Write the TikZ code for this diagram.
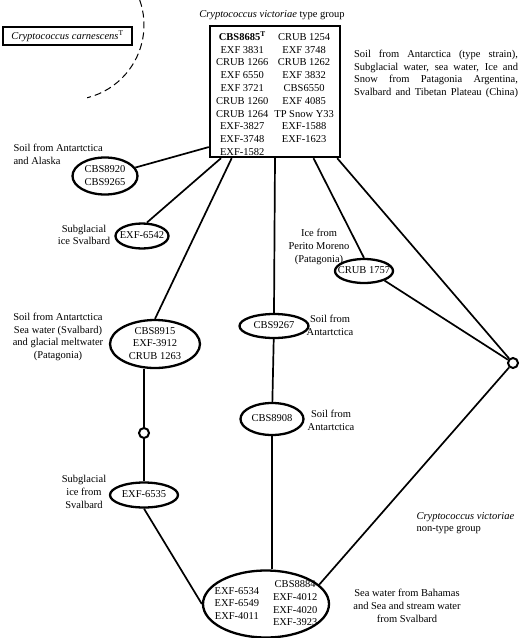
\documentclass[tikz,border=0pt]{standalone}
\usepackage{fontspec}
\setmainfont{Liberation Serif}
\usetikzlibrary{shapes.geometric}
\newcommand{\strn}[1]{\smash{\raisebox{-3pt}{\makebox[0pt]{\begin{tabular}{@{}c@{}}#1\end{tabular}}}}}

\begin{document}
\begin{tikzpicture}[x=1pt,y=-1pt,
  strain/.style={ellipse,draw,line width=2.3pt,inner sep=0pt,font=\fontsize{10.5}{12.7}\selectfont},
  link/.style={line width=1.7pt},
  junc/.style={circle,draw,line width=2pt,minimum size=10pt,inner sep=0pt},
  note/.style={align=center,font=\fontsize{10.5}{12.7}\selectfont}]
  \useasboundingbox (0,0) rectangle (520,638);
  \draw[line width=1pt,dash pattern=on 7pt off 4pt] (69,25) ++(-19.5:75) arc[start angle=-19.5,end angle=76,radius=75];
  \node[draw,line width=2.2pt,minimum width=129,minimum height=18,inner sep=0pt,font=\fontsize{10.5}{12}\selectfont] (carn) at (67.5,36) {\textit{Cryptococcus carnescens}\textsuperscript{T}};
  \node[note] (vtitle) at (272,15) {\textit{Cryptococcus victoriae} type group};
  \node[draw,line width=2.4pt,minimum width=130,minimum height=131,inner sep=0pt,font=\fontsize{10.5}{12.8}\selectfont] (typegrp) at (275,91.5)
    {\smash{\raisebox{-6.5pt}{\makebox[0pt]{\begin{tabular}{@{}c@{\hspace{6pt}}c@{}}
      \textbf{CBS8685}\textsuperscript{\textbf{T}} & CRUB 1254\\
      EXF 3831 & EXF 3748\\
      CRUB 1266 & CRUB 1262\\
      EXF 6550 & EXF 3832\\
      EXF 3721 & CBS6550\\
      CRUB 1260 & EXF 4085\\
      CRUB 1264 & TP Snow Y33\\
      EXF-3827 & EXF-1588\\
      EXF-3748 & EXF-1623\\
      EXF-1582 &
    \end{tabular}}}}};
  \node[note,align=left] (typesrc) at (436,74)
    {\makebox[164pt][s]{Soil from Antarctica (type strain),}\\
     \makebox[164pt][s]{Subglacial water, sea water, Ice and}\\
     \makebox[164pt][s]{Snow from Patagonia Argentina,}\\
     \makebox[164pt][s]{Svalbard and Tibetan Plateau (China)}};
  \node[strain,minimum width=65,minimum height=37] (alaska) at (105,176) {\strn{CBS8920\\CBS9265}};
  \node[note,align=left,anchor=west] (alaskasrc) at (10,154) {Soil from Antartctica\\and Alaska};
  \node[strain,minimum width=53,minimum height=25] (svalA) at (142,236) {\strn{EXF-6542}};
  \node[note] (svalAsrc) at (84,235) {Subglacial\\ice Svalbard};
  \node[strain,minimum width=90,minimum height=48] (cbsC) at (155,344) {\strn{CBS8915\\EXF-3912\\CRUB 1263}};
  \node[note] (cbsCsrc) at (58,337) {Soil from Antartctica\\Sea water (Svalbard)\\and glacial meltwater\\(Patagonia)};
  \node[junc] (junA) at (144,433) {};
  \node[strain,minimum width=68,minimum height=25] (exfE) at (144,495) {\strn{EXF-6535}};
  \node[note] (exfEsrc) at (84,492) {Subglacial\\ice from\\Svalbard};
  \node[strain,minimum width=69,minimum height=24] (cbs9267) at (274,326) {\strn{CBS9267}};
  \node[note] (cbs9267src) at (330,325) {Soil from\\Antartctica};
  \node[strain,minimum width=63,minimum height=32] (cbs8908) at (272,419) {\strn{CBS8908}};
  \node[note] (cbs8908src) at (331,420) {Soil from\\Antartctica};
  \node[strain,minimum width=58,minimum height=24] (crub) at (364,271) {\strn{CRUB 1757}};
  \node[note] (crubsrc) at (319,247) {Ice from\\Perito Moreno\\(Patagonia)};
  \node[junc] (junB) at (513,363) {};
  \node[strain,minimum width=126,minimum height=67] (mix) at (266,604)
    {\smash{\raisebox{-3pt}{\makebox[0pt]{\begin{tabular}{@{}c@{\hspace{14pt}}c@{}}
      \begin{tabular}{@{}c@{}}EXF-6534\\EXF-6549\\EXF-4011\end{tabular} &
      \begin{tabular}{@{}c@{}}CBS8884\\EXF-4012\\EXF-4020\\EXF-3923\end{tabular}
    \end{tabular}}}}};
  \node[note] (mixsrc) at (407,606) {Sea water from Bahamas\\and Sea and stream water\\from Svalbard};
  \node[note,align=left,anchor=west] (nontype) at (413,523) {\textit{Cryptococcus victoriae}\\non-type group};
  \draw[link] (typegrp.220.5) -- (alaska);
  \draw[link] (typegrp.231) -- (svalA.70);
  \draw[link] (typegrp.237.3) -- (cbsC.north);
  \draw[link] (typegrp.south) -- (cbs9267.north);
  \draw[link] (cbs9267) -- (cbs8908);
  \draw[link] (cbs8908) -- (cbs8908 |- mix.north);
  \draw[link] (junA |- cbsC.south) -- (junA);
  \draw[link] (junA) -- (exfE);
  \draw[link] (exfE.south) -- (mix.west);
  \draw[link] (typegrp.300.1) -- (crub.north);
  \draw[link] (crub.-25) -- (junB);
  \draw[link] (typegrp.313.4) -- (junB);
  \draw[link] (junB) -- (mix.20);
\end{tikzpicture}
\end{document}
